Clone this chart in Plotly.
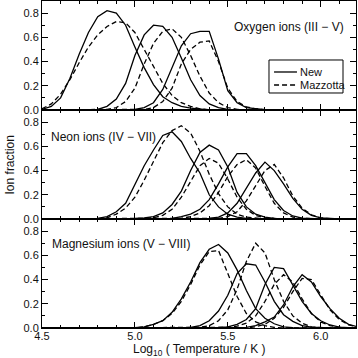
import plotly.graph_objects as go
from plotly.subplots import make_subplots

LOGT = [4.50, 4.55, 4.60, 4.65, 4.70, 4.75, 4.80, 4.85, 4.90, 4.95,
        5.00, 5.05, 5.10, 5.15, 5.20, 5.25, 5.30, 5.35, 5.40, 5.45,
        5.50, 5.55, 5.60, 5.65, 5.70, 5.75, 5.80, 5.85, 5.90, 5.95,
        6.00, 6.05, 6.10, 6.15, 6.20]

# ---- Oxygen (III - V) ----
O3_NEW = [0.005, 0.03, 0.10, 0.26, 0.46, 0.64, 0.77, 0.82, 0.80, 0.70,
          0.52, 0.35, 0.21, 0.11, 0.06, 0.03, 0.015, 0.005, 0, 0,
          0, 0, 0, 0, 0, 0, 0, 0, 0, 0, 0, 0, 0, 0, 0]
O3_MAZ = [0.01, 0.05, 0.13, 0.25, 0.39, 0.52, 0.62, 0.69, 0.73, 0.72,
          0.64, 0.50, 0.36, 0.22, 0.12, 0.06, 0.03, 0.01, 0.003, 0,
          0, 0, 0, 0, 0, 0, 0, 0, 0, 0, 0, 0, 0, 0, 0]
O4_NEW = [0, 0, 0, 0, 0, 0, 0.005, 0.03, 0.09, 0.22,
          0.45, 0.62, 0.70, 0.69, 0.60, 0.43, 0.25, 0.12, 0.05, 0.02,
          0.005, 0, 0, 0, 0, 0, 0, 0, 0, 0, 0, 0, 0, 0, 0]
O4_MAZ = [0, 0, 0, 0, 0, 0, 0, 0.005, 0.02, 0.07,
          0.18, 0.38, 0.55, 0.65, 0.67, 0.60, 0.45, 0.28, 0.14, 0.06,
          0.02, 0.005, 0, 0, 0, 0, 0, 0, 0, 0, 0, 0, 0, 0, 0]
O5_NEW = [0, 0, 0, 0, 0, 0, 0, 0, 0, 0,
          0.005, 0.02, 0.06, 0.17, 0.35, 0.53, 0.63, 0.65, 0.65, 0.42,
          0.16, 0.06, 0.02, 0.008, 0.002, 0, 0, 0, 0, 0, 0, 0, 0, 0, 0]
O5_MAZ = [0, 0, 0, 0, 0, 0, 0, 0, 0, 0,
          0, 0.005, 0.02, 0.07, 0.18, 0.38, 0.50, 0.56, 0.57, 0.40,
          0.18, 0.07, 0.025, 0.01, 0.003, 0, 0, 0, 0, 0, 0, 0, 0, 0, 0]

# ---- Neon (IV - VII) ----
NE4_NEW = [0, 0, 0, 0, 0, 0, 0.005, 0.02, 0.06, 0.13,
           0.28, 0.44, 0.57, 0.69, 0.72, 0.64, 0.50, 0.38, 0.20, 0.10,
           0.04, 0.015, 0.005, 0, 0, 0, 0, 0, 0, 0, 0, 0, 0, 0, 0]
NE4_MAZ = [0, 0, 0, 0, 0, 0, 0.003, 0.01, 0.04, 0.09,
           0.18, 0.32, 0.47, 0.63, 0.73, 0.77, 0.71, 0.56, 0.37, 0.21,
           0.10, 0.04, 0.015, 0.005, 0, 0, 0, 0, 0, 0, 0, 0, 0, 0, 0]
NE5_NEW = [0, 0, 0, 0, 0, 0, 0, 0, 0, 0,
           0.005, 0.01, 0.02, 0.05, 0.12, 0.23, 0.40, 0.55, 0.61, 0.57,
           0.43, 0.22, 0.10, 0.04, 0.015, 0.005, 0, 0, 0, 0, 0, 0, 0, 0, 0]
NE5_MAZ = [0, 0, 0, 0, 0, 0, 0, 0, 0, 0,
           0, 0.005, 0.01, 0.03, 0.08, 0.18, 0.31, 0.44, 0.50, 0.46,
           0.33, 0.18, 0.08, 0.03, 0.01, 0.003, 0, 0, 0, 0, 0, 0, 0, 0, 0]
NE6_NEW = [0, 0, 0, 0, 0, 0, 0, 0, 0, 0,
           0, 0, 0, 0, 0.005, 0.02, 0.04, 0.08, 0.16, 0.29,
           0.43, 0.54, 0.54, 0.44, 0.30, 0.16, 0.07, 0.025, 0.008, 0.002,
           0, 0, 0, 0, 0]
NE6_MAZ = [0, 0, 0, 0, 0, 0, 0, 0, 0, 0,
           0, 0, 0, 0, 0, 0.005, 0.02, 0.05, 0.11, 0.22,
           0.35, 0.45, 0.49, 0.42, 0.27, 0.13, 0.05, 0.015, 0.005, 0,
           0, 0, 0, 0, 0]
NE7_NEW = [0, 0, 0, 0, 0, 0, 0, 0, 0, 0,
           0, 0, 0, 0, 0, 0, 0, 0, 0.005, 0.015,
           0.05, 0.13, 0.26, 0.38, 0.47, 0.40, 0.29, 0.17, 0.08, 0.03,
           0.01, 0.003, 0, 0, 0]
NE7_MAZ = [0, 0, 0, 0, 0, 0, 0, 0, 0, 0,
           0, 0, 0, 0, 0, 0, 0, 0, 0, 0.005,
           0.02, 0.06, 0.15, 0.28, 0.40, 0.45, 0.34, 0.19, 0.09, 0.035,
           0.01, 0.003, 0, 0, 0]

# ---- Magnesium (V - VIII) ----
MG5_NEW = [0, 0, 0, 0, 0, 0, 0, 0, 0, 0,
           0.003, 0.01, 0.03, 0.06, 0.13, 0.24, 0.38, 0.54, 0.65, 0.69,
           0.62, 0.48, 0.31, 0.16, 0.08, 0.035, 0.01, 0.003, 0, 0,
           0, 0, 0, 0, 0]
MG5_MAZ = [0, 0, 0, 0, 0, 0, 0, 0, 0, 0,
           0, 0.01, 0.03, 0.06, 0.12, 0.22, 0.36, 0.52, 0.63, 0.64,
           0.45, 0.26, 0.12, 0.05, 0.02, 0.005, 0, 0, 0, 0,
           0, 0, 0, 0, 0]
MG6_NEW = [0, 0, 0, 0, 0, 0, 0, 0, 0, 0,
           0, 0, 0, 0, 0, 0, 0.005, 0.02, 0.06, 0.14,
           0.27, 0.45, 0.53, 0.52, 0.38, 0.22, 0.11, 0.055, 0.02, 0.008,
           0.002, 0, 0, 0, 0]
MG6_MAZ = [0, 0, 0, 0, 0, 0, 0, 0, 0, 0,
           0, 0, 0, 0, 0, 0, 0, 0.005, 0.02, 0.06,
           0.15, 0.32, 0.55, 0.70, 0.62, 0.40, 0.22, 0.10, 0.04, 0.01,
           0.003, 0, 0, 0, 0]
MG7_NEW = [0, 0, 0, 0, 0, 0, 0, 0, 0, 0,
           0, 0, 0, 0, 0, 0, 0, 0, 0, 0.005,
           0.01, 0.03, 0.07, 0.16, 0.36, 0.50, 0.49, 0.36, 0.22, 0.12,
           0.06, 0.025, 0.008, 0.002, 0]
MG7_MAZ = [0, 0, 0, 0, 0, 0, 0, 0, 0, 0,
           0, 0, 0, 0, 0, 0, 0, 0, 0, 0,
           0.005, 0.015, 0.04, 0.10, 0.22, 0.36, 0.44, 0.38, 0.24, 0.12,
           0.05, 0.02, 0.005, 0, 0]
MG8_NEW = [0, 0, 0, 0, 0, 0, 0, 0, 0, 0,
           0, 0, 0, 0, 0, 0, 0, 0, 0, 0,
           0, 0, 0.005, 0.02, 0.05, 0.09, 0.19, 0.34, 0.44, 0.38,
           0.26, 0.16, 0.08, 0.03, 0.01]
MG8_MAZ = [0, 0, 0, 0, 0, 0, 0, 0, 0, 0,
           0, 0, 0, 0, 0, 0, 0, 0, 0, 0,
           0, 0, 0, 0.01, 0.03, 0.08, 0.17, 0.30, 0.41, 0.40,
           0.28, 0.15, 0.07, 0.025, 0.01]

PANELS = [
    ("Oxygen ions (III \u2212 V)", [(O3_NEW, O3_MAZ), (O4_NEW, O4_MAZ), (O5_NEW, O5_MAZ)]),
    ("Neon ions (IV \u2212 VII)", [(NE4_NEW, NE4_MAZ), (NE5_NEW, NE5_MAZ), (NE6_NEW, NE6_MAZ), (NE7_NEW, NE7_MAZ)]),
    ("Magnesium ions (V \u2212 VIII)", [(MG5_NEW, MG5_MAZ), (MG6_NEW, MG6_MAZ), (MG7_NEW, MG7_MAZ), (MG8_NEW, MG8_MAZ)]),
]
SERIES_NAMES = ["New", "Mazzotta"]
X_TICKS = [4.5, 5.0, 5.5, 6.0]
Y_TICKS = [0.0, 0.2, 0.4, 0.6, 0.8]

FONT = "Liberation Sans, Arial, sans-serif"
INK = "#111111"
DASH = "5px,3px"

fig = make_subplots(rows=3, cols=1, shared_xaxes=True, vertical_spacing=0)

for r, (label, ions) in enumerate(PANELS, start=1):
    for new, maz in ions:
        fig.add_trace(go.Scatter(x=LOGT, y=new, mode="lines", name=SERIES_NAMES[0],
                                 showlegend=False,
                                 line=dict(color="black", width=1.3)), row=r, col=1)
        fig.add_trace(go.Scatter(x=LOGT, y=maz, mode="lines", name=SERIES_NAMES[1],
                                 showlegend=False,
                                 line=dict(color="black", width=1.3, dash=DASH)), row=r, col=1)

axis_common = dict(showline=True, linecolor="black", linewidth=1, mirror="allticks",
                   ticks="inside", ticklen=6, tickcolor="black", tickwidth=1,
                   showgrid=False, zeroline=False, automargin=False,
                   tickfont=dict(family=FONT, size=11, color=INK))
for r in range(1, 4):
    fig.update_xaxes(range=[4.5, 6.19], tickvals=X_TICKS, tickformat=".1f",
                     minor=dict(dtick=0.1, tick0=4.5, ticks="inside", ticklen=3, tickcolor="black", showgrid=False),
                     showticklabels=(r == 3), ticklabelstandoff=-2, row=r, col=1, **axis_common)
    fig.update_yaxes(range=[0, 0.9], tickvals=Y_TICKS, tickformat=".1f",
                     minor=dict(dtick=0.1, tick0=0, ticks="inside", ticklen=3, tickcolor="black", showgrid=False),
                     row=r, col=1, **axis_common)

ann_font = dict(family=FONT, size=12, color=INK)
leg_font = dict(family=FONT, size=11, color=INK)
fig.add_annotation(text=PANELS[0][0], xref="paper", yref="paper", x=0.968, y=0.9205,
                   xanchor="right", yanchor="middle", showarrow=False, font=ann_font)
fig.add_annotation(text=PANELS[1][0], xref="paper", yref="paper", x=0.022, y=0.5856,
                   xanchor="left", yanchor="middle", showarrow=False, font=ann_font)
fig.add_annotation(text=PANELS[2][0], xref="paper", yref="paper", x=0.025, y=0.2569,
                   xanchor="left", yanchor="middle", showarrow=False, font=ann_font)
fig.add_annotation(text="Ion fraction", xref="paper", yref="paper", x=-0.102, y=0.50,
                   xanchor="center", yanchor="middle", textangle=-90, showarrow=False, font=ann_font)
fig.add_annotation(text="Log<sub>10</sub> ( Temperature / K )", xref="paper", yref="paper",
                   x=0.5, y=-0.0673, xanchor="center", yanchor="middle", showarrow=False, font=ann_font)

# legend box (drawn in paper coordinates, top-right of the oxygen panel)
LEG_X0, LEG_X1, LEG_Y0, LEG_Y1 = 0.7229, 0.9586, 0.7187, 0.8196
ROW_Y = [0.7829, 0.7431]
fig.add_shape(type="rect", xref="paper", yref="paper", x0=LEG_X0, x1=LEG_X1, y0=LEG_Y0, y1=LEG_Y1,
              line=dict(color="black", width=1), fillcolor="white", layer="above")
for name, yy, dash in zip(SERIES_NAMES, ROW_Y, ["solid", DASH]):
    fig.add_shape(type="line", xref="paper", yref="paper", x0=0.739, x1=0.812, y0=yy, y1=yy,
                  line=dict(color="black", width=1.3, dash=dash), layer="above")
    fig.add_annotation(text=name, xref="paper", yref="paper", x=0.815, y=yy,
                       xanchor="left", yanchor="middle", showarrow=False, font=leg_font)

fig.update_layout(
    width=358, height=358,
    margin=dict(l=42, r=2, t=1, b=30, autoexpand=False),
    paper_bgcolor="white", plot_bgcolor="white",
    showlegend=False,
    font=dict(family=FONT, size=12, color=INK),
)

fig.write_html("out.html", config={"displayModeBar": False},
               post_script="document.body.style.margin='0';document.body.style.padding='0';")
